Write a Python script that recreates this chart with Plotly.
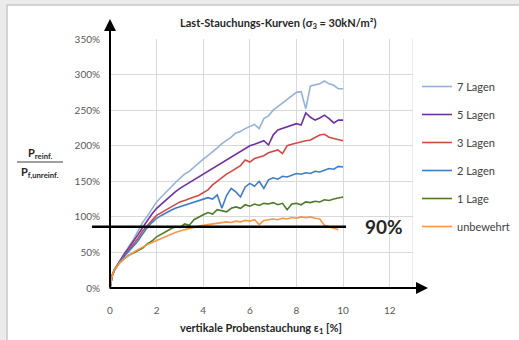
import plotly.graph_objects as go

strain = [0, 0.05, 0.1, 0.2, 0.4, 0.6, 0.8, 1.0, 1.2, 1.4, 1.6, 1.8, 2.0, 2.2, 2.4, 2.6, 2.8,
          3.0, 3.2, 3.4, 3.6, 3.8, 4.0, 4.2, 4.4, 4.6, 4.8, 5.0, 5.2, 5.4, 5.6, 5.8, 6.0,
          6.2, 6.4, 6.6, 6.8, 7.0, 7.2, 7.4, 7.6, 7.8, 8.0, 8.2, 8.4, 8.6, 8.8, 9.0, 9.2,
          9.4, 9.6, 9.8, 10.0]

lagen7 = [0, 14, 19, 27, 38, 48, 58, 68, 80, 92, 101, 112, 121, 128, 135, 141, 148,
          154, 160, 164, 170, 176, 181, 186, 191, 197, 203, 207, 212, 218, 220, 224, 227,
          230, 224, 238, 242, 250, 255, 260, 266, 270, 275, 276, 252, 284, 285, 287, 291,
          287, 285, 280, 280]
lagen5 = [0, 13, 18, 26, 37, 47, 56, 65, 75, 85, 95, 104, 112, 118, 124, 130, 135,
          140, 144, 149, 153, 157, 161, 165, 169, 173, 177, 180, 185, 188, 192, 196, 200,
          202, 205, 207, 201, 215, 222, 224, 227, 229, 231, 229, 246, 240, 236, 239, 243,
          238, 232, 236, 236]
lagen3 = [0, 13, 18, 26, 36, 45, 53, 61, 70, 80, 88, 95, 102, 106, 110, 114, 118,
          121, 123, 126, 128, 130, 134, 138, 145, 150, 156, 160, 164, 168, 172, 180, 177,
          182, 184, 186, 190, 192, 194, 189, 200, 202, 204, 205, 207, 208, 211, 215, 216,
          212, 210, 208, 207]
lagen2 = [0, 13, 18, 26, 36, 44, 51, 58, 66, 76, 85, 92, 98, 102, 106, 109, 112,
          114, 117, 119, 120, 122, 124, 127, 125, 131, 112, 130, 140, 135, 128, 142, 147,
          143, 150, 140, 152, 155, 153, 157, 156, 159, 161, 160, 162, 161, 164, 163, 166,
          168, 167, 171, 170]
lage1 = [0, 13, 18, 26, 35, 41, 46, 49, 52, 56, 62, 66, 72, 76, 80, 83, 86,
         85, 90, 88, 96, 100, 103, 106, 104, 110, 108, 107, 112, 114, 112, 117, 115,
         118, 116, 119, 118, 120, 117, 119, 110, 118, 119, 117, 121, 120, 122, 121, 124,
         123, 125, 126, 128]
unbewehrt = [0, 13, 18, 26, 35, 41, 46, 50, 54, 58, 61, 64, 67, 70, 72, 75, 78,
             80, 82, 84, 86, 87, 88, 89, 90, 91, 92, 93, 92, 94, 93, 95, 94,
             96, 89, 95, 96, 97, 96, 98, 97, 99, 98, 100, 99, 100, 98, 97, 88,
             86, 85, 82, None]

series_names = ["7 Lagen", "5 Lagen", "3 Lagen", "2 Lagen", "1 Lage", "unbewehrt"]
series_values = [lagen7, lagen5, lagen3, lagen2, lage1, unbewehrt]
series_colors = ["#95B3D7", "#7030A0", "#D04A45", "#3E7CC8", "#4F7A28", "#F79646"]

y_ticks = [0, 50, 100, 150, 200, 250, 300, 350]
y_tick_labels = ["0%", "50%", "100%", "150%", "200%", "250%", "300%", "350%"]
x_ticks = [0, 2, 4, 6, 8, 10, 12]
limit_value = 86
limit_label = "90%"

FONT = "Lato"

fig = go.Figure()
for name, vals, col in zip(series_names, series_values, series_colors):
    fig.add_trace(go.Scatter(x=strain, y=vals, mode="lines", name=name,
                             legendgroup=name,
                             line=dict(color=col, width=1.6)))

L, R, T, B = 110, 106, 39, 52
W, H = 519, 340
pw, ph = W - L - R, H - T - B


def px2paper_x(px):
    return (px - L) / pw


def px2paper_y(py):
    return (H - B - py) / ph


fig.update_layout(
    width=W, height=H,
    margin=dict(l=L, r=R, t=T, b=B, autoexpand=False),
    paper_bgcolor="#ebebeb",
    plot_bgcolor="white",
    font=dict(family=FONT, size=10, color="#595959"),
    showlegend=True,
    legend=dict(x=px2paper_x(417), y=px2paper_y(72), xanchor="left", yanchor="top",
                font=dict(family=FONT, size=11, color="#404040"),
                bgcolor="rgba(0,0,0,0)", traceorder="grouped", tracegroupgap=9,
                itemwidth=30),
    xaxis=dict(range=[0, 13], tickvals=x_ticks, showgrid=True, gridcolor="#d9d9d9",
               gridwidth=1, zeroline=False, showline=False, ticks="", automargin=False,
               ticklabelstandoff=15,
               tickfont=dict(family=FONT, size=10, color="#595959")),
    yaxis=dict(range=[0, 350], tickvals=y_ticks, ticktext=y_tick_labels, showgrid=True,
               gridcolor="#d9d9d9", gridwidth=1, zeroline=False, showline=False,
               ticks="", automargin=False, ticklabelstandoff=9,
               tickfont=dict(family=FONT, size=10, color="#595959")),
)

shapes = []
shapes.append(dict(type="rect", xref="paper", yref="paper",
                   x0=px2paper_x(7), x1=px2paper_x(530), y0=px2paper_y(350), y1=px2paper_y(5),
                   fillcolor="white", line=dict(color="#c8c8c8", width=1.5), layer="below"))
shapes.append(dict(type="line", xref="x", yref="y", x0=13, x1=13, y0=0, y1=350,
                   line=dict(color="#d9d9d9", width=1), layer="below"))
shapes.append(dict(type="line", xref="paper", yref="y", x0=px2paper_x(92), x1=px2paper_x(346),
                   y0=limit_value, y1=limit_value, line=dict(color="black", width=2.5)))
shapes.append(dict(type="line", xref="paper", yref="paper", x0=px2paper_x(17), x1=px2paper_x(63),
                   y0=px2paper_y(162), y1=px2paper_y(162), line=dict(color="#404040", width=1.2)))
fig.update_layout(shapes=shapes)

ann = []
ann.append(dict(xref="paper", yref="paper", x=0, y=px2paper_y(19), ax=0, ay=270,
                showarrow=True, arrowhead=2, arrowsize=1.2, arrowwidth=2, arrowcolor="black",
                text=""))
ann.append(dict(xref="paper", yref="paper", x=px2paper_x(428), y=0, ax=-320, ay=0,
                showarrow=True, arrowhead=2, arrowsize=1.2, arrowwidth=2, arrowcolor="black",
                text=""))


def label(px, py, text, size, yref="paper"):
    return dict(xref="paper", yref=yref, x=px2paper_x(px),
                y=(px2paper_y(py) if yref == "paper" else py), text=text,
                xanchor="center", yanchor="middle", showarrow=False,
                font=dict(family=FONT, size=size, color="#262626"))


ann.append(label(384, limit_value, "<b>" + limit_label + "</b>", 19, yref="y"))
ann.append(label(278, 24, "<b>Last-Stauchungs-Kurven (σ<sub>3</sub> = 30kN/m²)</b>", 11))
ann.append(label(261, 328, "<b>vertikale Probenstauchung ε<sub>1</sub> [%]</b>", 11))
ann.append(label(40, 153, "<b>P<sub>reinf.</sub></b>", 11))
ann.append(label(40, 172, "<b>P<sub>f,unreinf.</sub></b>", 11))
fig.update_layout(annotations=ann)

fig.write_html("out.html", config={"displayModeBar": False},
               post_script="document.body.style.margin='0';document.body.style.overflow='hidden';")
